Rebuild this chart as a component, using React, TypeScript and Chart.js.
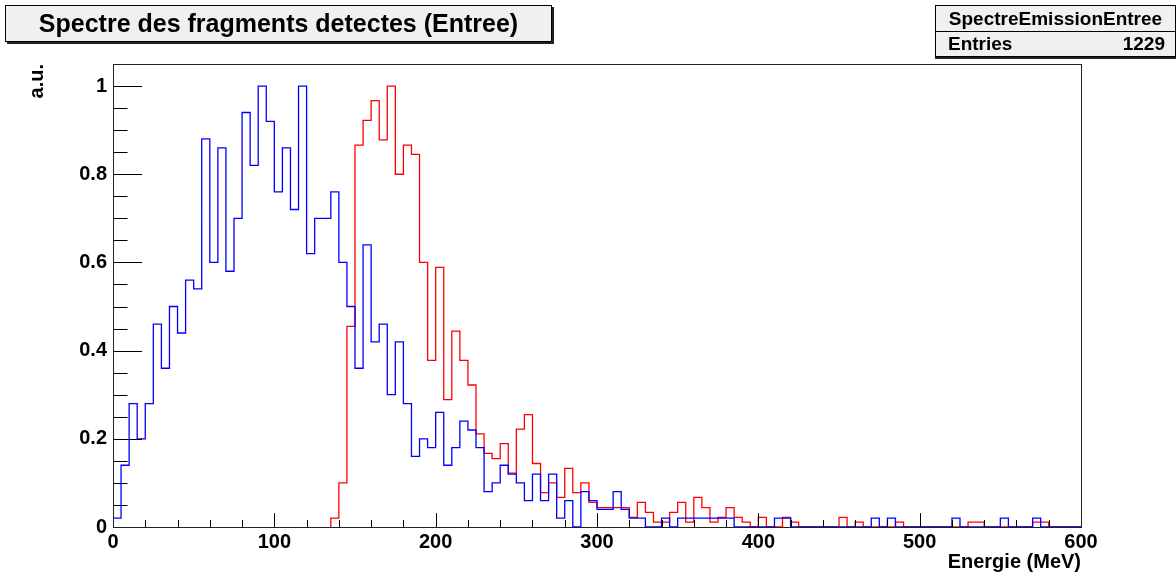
import React, { useEffect, useRef } from "react";
import { Chart, registerables } from "chart.js";

Chart.register(...registerables);

// ---------- data ----------
const binWidth = 5; // MeV
const blueValues = [
  0.02, 0.14, 0.28, 0.2, 0.28, 0.46, 0.36, 0.5, 0.44, 0.56,
  0.54, 0.88, 0.6, 0.86, 0.58, 0.7, 0.94, 0.82, 1.0, 0.92,
  0.76, 0.86, 0.72, 1.0, 0.62, 0.7, 0.7, 0.76, 0.6, 0.5,
  0.36, 0.64, 0.42, 0.46, 0.3, 0.42, 0.28, 0.16, 0.2, 0.18,
  0.26, 0.14, 0.18, 0.24, 0.22, 0.18, 0.08, 0.1, 0.14, 0.12,
  0.1, 0.06, 0.12, 0.06, 0.12, 0.02, 0.06, 0, 0.08, 0.06,
  0.04, 0.04, 0.08, 0.04, 0.02, 0.02, 0, 0, 0.02, 0,
  0.02, 0.02, 0.02, 0.02, 0.02, 0.02, 0.02, 0, 0, 0,
  0, 0, 0.02, 0.02, 0, 0, 0, 0, 0, 0,
  0, 0, 0, 0, 0.02, 0, 0.02, 0, 0, 0,
  0, 0, 0, 0, 0.02, 0, 0, 0, 0, 0,
  0.02, 0, 0, 0, 0.02, 0, 0, 0, 0, 0,
];
const redValues = [
  0, 0, 0, 0, 0, 0, 0, 0, 0, 0,
  0, 0, 0, 0, 0, 0, 0, 0, 0, 0,
  0, 0, 0, 0, 0, 0, 0, 0.02, 0.1, 0.455,
  0.866, 0.922, 0.967, 0.878, 1.0, 0.8, 0.866, 0.845, 0.6, 0.378,
  0.589, 0.289, 0.444, 0.378, 0.322, 0.211, 0.167, 0.155, 0.189, 0.122,
  0.222, 0.255, 0.144, 0.078, 0.1, 0.067, 0.133, 0.078, 0.1, 0.056,
  0.044, 0.044, 0.044, 0.044, 0.022, 0.056, 0.033, 0.011, 0.011, 0.033,
  0.056, 0.011, 0.067, 0.044, 0.011, 0.022, 0.044, 0.022, 0.011, 0,
  0.022, 0, 0, 0.022, 0.011, 0, 0, 0, 0, 0,
  0.022, 0, 0.011, 0, 0, 0, 0, 0.011, 0, 0,
  0, 0, 0, 0, 0, 0, 0.011, 0.011, 0, 0,
  0, 0, 0, 0, 0.011, 0.011, 0, 0, 0, 0,
];
const xMajorTicks = [0, 100, 200, 300, 400, 500, 600];
const yMajorTicks = [0, 0.2, 0.4, 0.6, 0.8, 1];
const xMinorStep = 20;
const yMinorStep = 0.05;
const xMin = 0;
const xMax = 600;
const yMin = 0;
const yMax = 1.05;
const titleText = "Spectre des fragments detectes (Entree)";
const statsName = "SpectreEmissionEntree";
const statsLabel = "Entries";
const statsEntries = 1229;
const xTitle = "Energie (MeV)";
const yTitle = "a.u.";

// ---------- helpers ----------
const FONT = "'Liberation Sans', Arial, Helvetica, sans-serif";

// Outline of a histogram; leading empty bins are skipped if trimLeading.
function toSteps(values: number[], trimLeading: boolean) {
  let first = 0;
  if (trimLeading) {
    while (first < values.length && values[first] === 0) first++;
  }
  const pts: { x: number; y: number }[] = [];
  if (first > 0) pts.push({ x: xMin + first * binWidth, y: 0 });
  for (let i = first; i < values.length; i++) pts.push({ x: xMin + i * binWidth, y: values[i] });
  pts.push({ x: xMin + values.length * binWidth, y: values[values.length - 1] });
  return pts;
}

function range(start: number, end: number, step: number) {
  const out: number[] = [];
  const n = Math.round((end - start) / step);
  for (let i = 0; i <= n; i++) out.push(start + i * step);
  return out;
}

const frameTicksPlugin = {
  id: "frameTicks",
  afterDraw(chart: any) {
    const { ctx, chartArea: a } = chart;
    const xs = chart.scales.x;
    const ys = chart.scales.y;
    const w = a.right - a.left;
    const h = a.bottom - a.top;
    ctx.save();
    ctx.strokeStyle = "#000";
    ctx.lineWidth = 1;
    ctx.beginPath();
    const yMajLen = w * 0.03;
    range(yMin, yMax, yMinorStep).forEach((v) => {
      const py = Math.round(ys.getPixelForValue(v)) + 0.5;
      const major = yMajorTicks.some((t) => Math.abs(t - v) < 1e-6);
      ctx.moveTo(a.left, py);
      ctx.lineTo(a.left + (major ? yMajLen : yMajLen / 2), py);
    });
    const xMajLen = h * 0.03;
    range(xMin, xMax, xMinorStep).forEach((v) => {
      const px = Math.round(xs.getPixelForValue(v)) + 0.5;
      const major = xMajorTicks.some((t) => Math.abs(t - v) < 1e-6);
      ctx.moveTo(px, a.bottom);
      ctx.lineTo(px, a.bottom - (major ? xMajLen : xMajLen / 2));
    });
    ctx.stroke();
    ctx.strokeStyle = "#222";
    ctx.strokeRect(Math.round(a.left) + 0.5, Math.round(a.top) + 0.5, Math.round(w), Math.round(h));
    ctx.restore();
  },
};

export default function App() {
  const canvasRef = useRef<HTMLCanvasElement | null>(null);

  useEffect(() => {
    document.body.style.margin = "0";
    const canvas = canvasRef.current;
    if (!canvas) return;
    const chart = new Chart(canvas, {
      type: "line",
      data: {
        datasets: [
          {
            label: "blue",
            data: toSteps(blueValues, false),
            borderColor: "#0000ff",
            borderWidth: 1.3,
            stepped: "before",
            pointRadius: 0,
            fill: false,
            clip: 4,
          },
          {
            label: "red",
            data: toSteps(redValues, true),
            borderColor: "#ff0000",
            borderWidth: 1.3,
            stepped: "before",
            pointRadius: 0,
            fill: false,
            clip: 4,
          },
        ],
      },
      options: {
        animation: false,
        responsive: true,
        maintainAspectRatio: false,
        layout: { padding: { top: 64, right: 95, left: 0, bottom: 0 } },
        plugins: {
          legend: { display: false },
          tooltip: { enabled: false },
          title: { display: false },
        },
        scales: {
          x: {
            type: "linear",
            min: xMin,
            max: xMax,
            grid: { display: false, drawTicks: false },
            border: { display: false },
            afterFit: (s: any) => {
              s.height = 47;
            },
            afterBuildTicks: (s: any) => {
              s.ticks = xMajorTicks.map((v) => ({ value: v }));
            },
            ticks: {
              padding: 3,
              maxRotation: 0,
              color: "#000",
              font: { family: FONT, size: 20, weight: "bold" },
              callback: (v: any) => String(v),
            },
            title: {
              display: true,
              text: xTitle,
              align: "end",
              color: "#000",
              padding: { top: 0, bottom: 0 },
              font: { family: FONT, size: 20, weight: "bold" },
            },
          },
          y: {
            type: "linear",
            min: yMin,
            max: yMax,
            grid: { display: false, drawTicks: false },
            border: { display: false },
            afterFit: (s: any) => {
              s.width = 113;
            },
            afterBuildTicks: (s: any) => {
              s.ticks = yMajorTicks.map((v) => ({ value: v }));
            },
            ticks: {
              padding: 6,
              color: "#000",
              font: { family: FONT, size: 20, weight: "bold" },
              callback: (v: any) => String(Math.round(v * 10) / 10),
            },
            title: {
              display: true,
              text: yTitle,
              align: "end",
              color: "#000",
              padding: { top: 25, bottom: 0 },
              font: { family: FONT, size: 20, weight: "bold" },
            },
          },
        },
      },
      plugins: [frameTicksPlugin],
    } as any);
    return () => chart.destroy();
  }, []);

  return (
    <div style={{ position: "absolute", left: 0, top: 0, width: 1176, height: 574, background: "#fff", fontFamily: FONT }}>
      <canvas ref={canvasRef} />
      <div
        style={{
          position: "absolute",
          left: 5,
          top: 5,
          width: 547,
          height: 37,
          boxSizing: "border-box",
          border: "1px solid #000",
          background: "#f0f0f0",
          boxShadow: "2px 2px 0 #222",
          textAlign: "center",
          fontWeight: "bold",
          fontSize: 25,
          lineHeight: "35px",
          color: "#000",
          whiteSpace: "nowrap",
        }}
      >
        {titleText}
      </div>
      <div
        style={{
          position: "absolute",
          left: 935,
          top: 5,
          width: 241,
          height: 52,
          boxSizing: "border-box",
          border: "1px solid #000",
          background: "#f0f0f0",
          boxShadow: "0 2px 0 #222",
          fontWeight: "bold",
          fontSize: 19,
          color: "#000",
        }}
      >
        <div style={{ height: 26, lineHeight: "26px", textAlign: "center", borderBottom: "1px solid #000", boxSizing: "border-box" }}>
          {statsName}
        </div>
        <div style={{ height: 24, lineHeight: "24px", display: "flex", justifyContent: "space-between", padding: "0 10px 0 12px" }}>
          <span>{statsLabel}</span>
          <span>{statsEntries}</span>
        </div>
      </div>
    </div>
  );
}
